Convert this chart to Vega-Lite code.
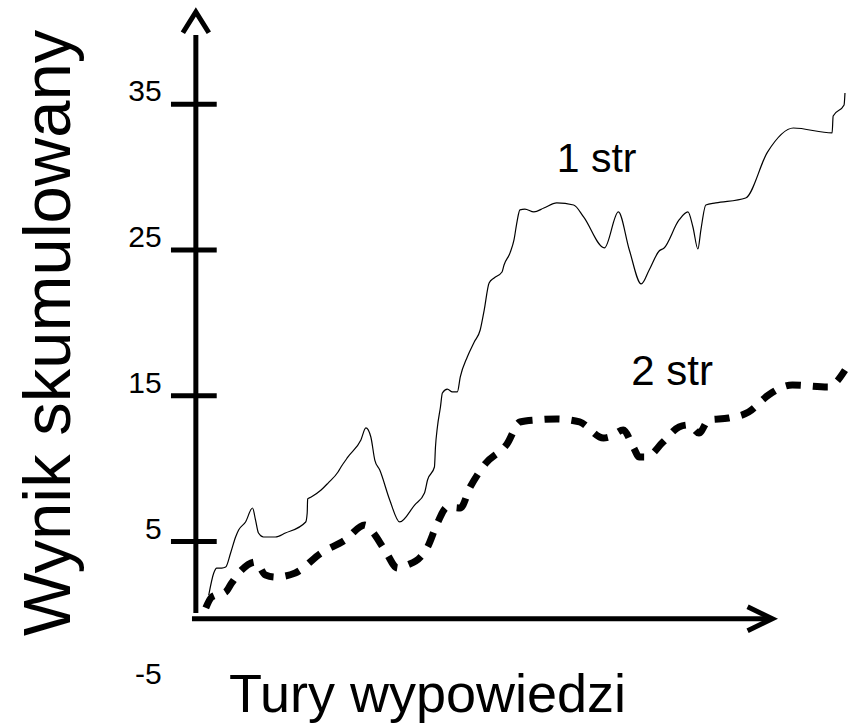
{
  "$schema": "https://vega.github.io/schema/vega-lite/v6.json",
  "width": 859,
  "height": 725,
  "autosize": {"type": "fit", "contains": "padding"},
  "padding": 0,
  "background": "white",
  "config": {"view": {"stroke": null}, "font": "Liberation Sans"},
  "datasets": {
    "series": [
      {"s": "1 str", "t": 2.0, "v": 1.33},
      {"s": "1 str", "t": 2.77, "v": 2.84},
      {"s": "1 str", "t": 3.23, "v": 3.18},
      {"s": "1 str", "t": 4.0, "v": 3.18},
      {"s": "1 str", "t": 4.62, "v": 3.25},
      {"s": "1 str", "t": 5.38, "v": 4.21},
      {"s": "1 str", "t": 6.15, "v": 5.31},
      {"s": "1 str", "t": 6.62, "v": 5.79},
      {"s": "1 str", "t": 7.69, "v": 6.34},
      {"s": "1 str", "t": 8.77, "v": 7.3},
      {"s": "1 str", "t": 9.23, "v": 6.48},
      {"s": "1 str", "t": 9.69, "v": 5.58},
      {"s": "1 str", "t": 10.46, "v": 5.31},
      {"s": "1 str", "t": 12.31, "v": 5.31},
      {"s": "1 str", "t": 13.85, "v": 5.58},
      {"s": "1 str", "t": 17.0, "v": 6.34},
      {"s": "1 str", "t": 17.23, "v": 6.96},
      {"s": "1 str", "t": 17.3, "v": 7.92},
      {"s": "1 str", "t": 17.85, "v": 8.05},
      {"s": "1 str", "t": 19.38, "v": 8.53},
      {"s": "1 str", "t": 20.46, "v": 9.01},
      {"s": "1 str", "t": 22.0, "v": 9.77},
      {"s": "1 str", "t": 22.46, "v": 10.11},
      {"s": "1 str", "t": 23.54, "v": 10.8},
      {"s": "1 str", "t": 25.54, "v": 11.97},
      {"s": "1 str", "t": 26.31, "v": 12.79},
      {"s": "1 str", "t": 27.08, "v": 12.17},
      {"s": "1 str", "t": 27.69, "v": 10.59},
      {"s": "1 str", "t": 28.46, "v": 9.9},
      {"s": "1 str", "t": 30.0, "v": 7.85},
      {"s": "1 str", "t": 31.54, "v": 6.34},
      {"s": "1 str", "t": 33.85, "v": 7.5},
      {"s": "1 str", "t": 35.38, "v": 8.33},
      {"s": "1 str", "t": 35.85, "v": 9.22},
      {"s": "1 str", "t": 36.92, "v": 10.11},
      {"s": "1 str", "t": 37.08, "v": 11.48},
      {"s": "1 str", "t": 37.38, "v": 12.86},
      {"s": "1 str", "t": 37.85, "v": 14.23},
      {"s": "1 str", "t": 38.15, "v": 15.19},
      {"s": "1 str", "t": 38.92, "v": 15.46},
      {"s": "1 str", "t": 39.69, "v": 15.26},
      {"s": "1 str", "t": 40.46, "v": 15.26},
      {"s": "1 str", "t": 40.92, "v": 16.29},
      {"s": "1 str", "t": 42.0, "v": 17.66},
      {"s": "1 str", "t": 43.08, "v": 18.69},
      {"s": "1 str", "t": 44.0, "v": 19.51},
      {"s": "1 str", "t": 44.62, "v": 20.88},
      {"s": "1 str", "t": 45.38, "v": 22.74},
      {"s": "1 str", "t": 46.15, "v": 23.08},
      {"s": "1 str", "t": 47.38, "v": 23.49},
      {"s": "1 str", "t": 47.69, "v": 23.97},
      {"s": "1 str", "t": 48.62, "v": 24.8},
      {"s": "1 str", "t": 49.23, "v": 25.69},
      {"s": "1 str", "t": 49.69, "v": 26.92},
      {"s": "1 str", "t": 50.15, "v": 27.75},
      {"s": "1 str", "t": 50.92, "v": 27.81},
      {"s": "1 str", "t": 52.31, "v": 27.61},
      {"s": "1 str", "t": 53.85, "v": 27.88},
      {"s": "1 str", "t": 55.85, "v": 28.23},
      {"s": "1 str", "t": 58.46, "v": 28.09},
      {"s": "1 str", "t": 60.0, "v": 27.27},
      {"s": "1 str", "t": 63.23, "v": 25.14},
      {"s": "1 str", "t": 65.38, "v": 27.61},
      {"s": "1 str", "t": 67.08, "v": 25.0},
      {"s": "1 str", "t": 68.92, "v": 22.67},
      {"s": "1 str", "t": 70.15, "v": 23.63},
      {"s": "1 str", "t": 71.69, "v": 24.93},
      {"s": "1 str", "t": 72.46, "v": 25.14},
      {"s": "1 str", "t": 74.77, "v": 27.06},
      {"s": "1 str", "t": 76.15, "v": 27.61},
      {"s": "1 str", "t": 76.92, "v": 26.58},
      {"s": "1 str", "t": 77.69, "v": 25.07},
      {"s": "1 str", "t": 78.15, "v": 26.37},
      {"s": "1 str", "t": 78.92, "v": 28.09},
      {"s": "1 str", "t": 80.46, "v": 28.23},
      {"s": "1 str", "t": 85.08, "v": 28.57},
      {"s": "1 str", "t": 88.46, "v": 31.72},
      {"s": "1 str", "t": 92.46, "v": 33.37},
      {"s": "1 str", "t": 98.46, "v": 33.03},
      {"s": "1 str", "t": 98.62, "v": 34.19},
      {"s": "1 str", "t": 100.31, "v": 34.95},
      {"s": "1 str", "t": 100.45, "v": 35.77},
      {"s": "2 str", "t": 1.54, "v": 0.44},
      {"s": "2 str", "t": 2.46, "v": 1.19},
      {"s": "2 str", "t": 4.62, "v": 1.54},
      {"s": "2 str", "t": 5.54, "v": 2.15},
      {"s": "2 str", "t": 7.08, "v": 3.04},
      {"s": "2 str", "t": 9.23, "v": 3.59},
      {"s": "2 str", "t": 10.77, "v": 2.7},
      {"s": "2 str", "t": 12.31, "v": 2.56},
      {"s": "2 str", "t": 15.38, "v": 2.84},
      {"s": "2 str", "t": 19.38, "v": 4.21},
      {"s": "2 str", "t": 23.08, "v": 5.1},
      {"s": "2 str", "t": 26.15, "v": 6.13},
      {"s": "2 str", "t": 27.08, "v": 5.79},
      {"s": "2 str", "t": 29.23, "v": 4.42},
      {"s": "2 str", "t": 31.23, "v": 3.18},
      {"s": "2 str", "t": 32.77, "v": 3.39},
      {"s": "2 str", "t": 34.77, "v": 3.94},
      {"s": "2 str", "t": 35.85, "v": 4.62},
      {"s": "2 str", "t": 37.38, "v": 6.27},
      {"s": "2 str", "t": 38.92, "v": 7.37},
      {"s": "2 str", "t": 40.92, "v": 7.3},
      {"s": "2 str", "t": 42.46, "v": 8.74},
      {"s": "2 str", "t": 44.77, "v": 10.32},
      {"s": "2 str", "t": 48.15, "v": 11.69},
      {"s": "2 str", "t": 50.15, "v": 13.2},
      {"s": "2 str", "t": 52.77, "v": 13.34},
      {"s": "2 str", "t": 55.85, "v": 13.41},
      {"s": "2 str", "t": 59.38, "v": 13.2},
      {"s": "2 str", "t": 63.08, "v": 12.1},
      {"s": "2 str", "t": 64.0, "v": 12.17},
      {"s": "2 str", "t": 66.15, "v": 12.65},
      {"s": "2 str", "t": 67.69, "v": 11.48},
      {"s": "2 str", "t": 68.62, "v": 10.8},
      {"s": "2 str", "t": 69.69, "v": 10.8},
      {"s": "2 str", "t": 72.31, "v": 11.83},
      {"s": "2 str", "t": 74.77, "v": 12.86},
      {"s": "2 str", "t": 76.31, "v": 13.0},
      {"s": "2 str", "t": 77.85, "v": 12.44},
      {"s": "2 str", "t": 79.38, "v": 13.34},
      {"s": "2 str", "t": 82.46, "v": 13.47},
      {"s": "2 str", "t": 85.54, "v": 13.88},
      {"s": "2 str", "t": 88.62, "v": 15.05},
      {"s": "2 str", "t": 92.31, "v": 15.74},
      {"s": "2 str", "t": 97.85, "v": 15.6},
      {"s": "2 str", "t": 98.92, "v": 15.87},
      {"s": "2 str", "t": 100.46, "v": 16.76}
    ],
    "ticks": [
      {"v": 5},
      {"v": 15},
      {"v": 25},
      {"v": 35}
    ],
    "labels": [
      {"v": -5, "label": "-5"},
      {"v": 5, "label": "5"},
      {"v": 15, "label": "15"},
      {"v": 25, "label": "25"},
      {"v": 35, "label": "35"}
    ],
    "one": [{}]
  },
  "layer": [
    {
      "data": {"name": "one"},
      "mark": {"type": "rule", "strokeWidth": 5, "color": "black"},
      "encoding": {
        "x": {"datum": 0, "type": "quantitative", "scale": {"domain": [-30.3077, 101.846], "nice": false, "zero": false}, "axis": null},
        "y": {"datum": 0.1, "type": "quantitative", "scale": {"domain": [-7.59, 42.153], "nice": false, "zero": false}, "axis": null},
        "y2": {"datum": 39.75}
      }
    },
    {
      "data": {"name": "one"},
      "mark": {"type": "rule", "strokeWidth": 5, "color": "black"},
      "encoding": {
        "x": {"datum": -0.6, "type": "quantitative"},
        "x2": {"datum": 89},
        "y": {"datum": -0.3, "type": "quantitative"}
      }
    },
    {
      "data": {"name": "ticks"},
      "mark": {"type": "rule", "strokeWidth": 5, "color": "black"},
      "encoding": {
        "x": {"datum": -3.85, "type": "quantitative"},
        "x2": {"datum": 3.23},
        "y": {"field": "v", "type": "quantitative"}
      }
    },
    {
      "data": {"name": "labels"},
      "mark": {"type": "text", "align": "right", "baseline": "alphabetic", "dy": -3, "fontSize": 30, "color": "black"},
      "encoding": {
        "x": {"datum": -5.3, "type": "quantitative"},
        "y": {"field": "v", "type": "quantitative"},
        "text": {"field": "label"}
      }
    },
    {
      "data": {"name": "one"},
      "mark": {"type": "point", "shape": "M-1,1.6L0,0L1,1.6", "size": 676, "filled": false, "stroke": "black", "strokeWidth": 5, "opacity": 1},
      "encoding": {
        "x": {"datum": 0, "type": "quantitative"},
        "y": {"datum": 41.33, "type": "quantitative"}
      }
    },
    {
      "data": {"name": "one"},
      "mark": {"type": "point", "shape": "M-1.9,-0.92L0,0L-1.9,0.92", "size": 676, "filled": false, "stroke": "black", "strokeWidth": 5, "opacity": 1},
      "encoding": {
        "x": {"datum": 89.2, "type": "quantitative"},
        "y": {"datum": -0.3, "type": "quantitative"}
      }
    },
    {
      "data": {"name": "series"},
      "transform": [{"filter": "datum.s === '1 str'"}],
      "mark": {"type": "line", "strokeWidth": 1.2, "color": "black", "interpolate": "monotone"},
      "encoding": {
        "x": {"field": "t", "type": "quantitative"},
        "y": {"field": "v", "type": "quantitative"}
      }
    },
    {
      "data": {"name": "series"},
      "transform": [{"filter": "datum.s === '2 str'"}],
      "mark": {"type": "line", "strokeWidth": 7, "strokeDash": [15, 12], "color": "black", "interpolate": "monotone"},
      "encoding": {
        "x": {"field": "t", "type": "quantitative"},
        "y": {"field": "v", "type": "quantitative"}
      }
    },
    {
      "data": {"name": "one"},
      "mark": {"type": "text", "text": "1 str", "align": "left", "baseline": "alphabetic", "fontSize": 41, "color": "black"},
      "encoding": {
        "x": {"datum": 55.85, "type": "quantitative"},
        "y": {"datum": 30.35, "type": "quantitative"}
      }
    },
    {
      "data": {"name": "one"},
      "mark": {"type": "text", "text": "2 str", "align": "left", "baseline": "alphabetic", "fontSize": 42, "color": "black"},
      "encoding": {
        "x": {"datum": 67.38, "type": "quantitative"},
        "y": {"datum": 15.74, "type": "quantitative"}
      }
    },
    {
      "data": {"name": "one"},
      "mark": {"type": "text", "text": "Tury wypowiedzi", "align": "center", "baseline": "alphabetic", "fontSize": 54, "color": "black"},
      "encoding": {
        "x": {"datum": 35.85, "type": "quantitative"},
        "y": {"datum": -6.7, "type": "quantitative"}
      }
    },
    {
      "data": {"name": "one"},
      "mark": {"type": "text", "text": "Wynik skumulowany", "align": "center", "baseline": "alphabetic", "angle": 270, "fontSize": 67, "color": "black"},
      "encoding": {
        "x": {"datum": -19.54, "type": "quantitative"},
        "y": {"datum": 19.31, "type": "quantitative"}
      }
    }
  ]
}
